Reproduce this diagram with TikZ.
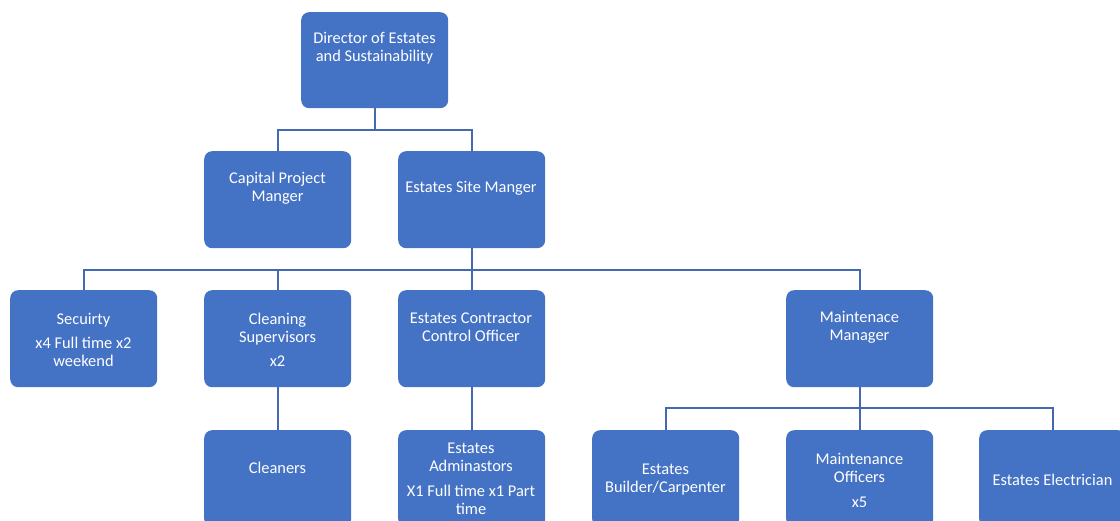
\documentclass[tikz,border=0pt]{standalone}
\usepackage{fontspec}
\setmainfont{Carlito}
\definecolor{boxblue}{HTML}{4472C4}
\definecolor{lineblue}{HTML}{4569B0}
\begin{document}
\begin{tikzpicture}[x=1pt,y=-1pt,
  box/.style={fill=boxblue, rounded corners=8pt, minimum width=147pt, minimum height=97pt, inner sep=0pt, anchor=north west},
  lbl/.style={text=white, font=\fontsize{16.4}{18}\selectfont, align=center, inner sep=0pt, yshift=-1.5pt},
  conn/.style={draw=lineblue, line width=1.9pt}]
\useasboundingbox (0,0) rectangle (1120,521);
\clip (0,0) rectangle (1120,521);
% boxes
\node[box, minimum height=96pt] (dir) at (301,12) {};
\node[box] (cap) at (204,151) {};
\node[box] (site) at (398,151) {};
\node[box] (sec) at (10,290) {};
\node[box] (clean) at (204,290) {};
\node[box] (contr) at (398,290) {};
\node[box] (maint) at (786,290) {};
\node[box] (cleaners) at (204,430) {};
\node[box] (admin) at (398,430) {};
\node[box] (build) at (592,430) {};
\node[box] (moff) at (786,430) {};
\node[box] (elec) at (979,430) {};
% connectors
\draw[conn] (dir.south) -- ++(0,22) -| (cap.north);
\draw[conn] (dir.south) -- ++(0,22) -| (site.north);
\draw[conn] (site.south) -- ++(0,22) -| (sec.north);
\draw[conn] (site.south) -- ++(0,22) -| (clean.north);
\draw[conn] (site.south) -- (contr.north);
\draw[conn] (site.south) -- ++(0,22) -| (maint.north);
\draw[conn] (clean.south) -- (cleaners.north);
\draw[conn] (contr.south) -- (admin.north);
\draw[conn] (maint.south) -- ++(0,21) -| (build.north);
\draw[conn] (maint.south) -- (moff.north);
\draw[conn] (maint.south) -- ++(0,21) -| (elec.north);
% labels
\node[lbl] (tdir) at (374.5,47) {Director of Estates\\and Sustainability};
\node[lbl] (tcap) at (277.5,187) {Capital Project\\Manger};
\node[lbl] (tsite) at (471,187) {Estates Site Manger};
\node[lbl] (tsec) at (83.5,338) {Secuirty\\[6pt]x4 Full time x2\\weekend};
\node[lbl] (tclean) at (277.5,338) {Cleaning\\Supervisors\\[6pt]x2};
\node[lbl] (tcontr) at (471,326) {Estates Contractor\\Control Officer};
\node[lbl] (tmaint) at (859.5,326) {Maintenace\\Manager};
\node[lbl] (tcleaners) at (277.5,466) {Cleaners};
\node[lbl] (tadmin) at (471,477.5) {Estates\\Adminastors\\[7pt]X1 Full time x1 Part\\time};
\node[lbl] (tbuild) at (665.5,478) {Estates\\Builder/Carpenter};
\node[lbl] (tmoff) at (859.5,478.5) {Maintenance\\Officers\\[7pt]x5};
\node[lbl] (telec) at (1052.5,478) {Estates Electrician};
\end{tikzpicture}
\end{document}
